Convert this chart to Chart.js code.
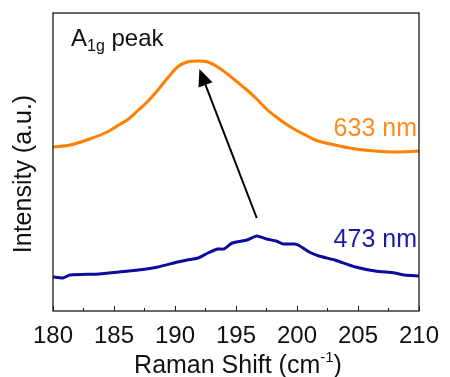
<!DOCTYPE html>
<html>
<head>
<meta charset="utf-8">
<script src="https://cdn.jsdelivr.net/npm/chart.js@4/dist/chart.umd.min.js"></script>
<style>
  html, body { margin: 0; padding: 0; background: #fff; }
  #wrap { width: 450px; height: 377px; }
</style>
</head>
<body>
<div id="wrap"><canvas id="c" width="450" height="377"></canvas></div>
<script>
// Raman shift (cm-1) and intensity (a.u.)
const shift633 = [180.0, 181.4, 183.0, 184.6, 185.4, 186.2, 187.0, 187.8, 188.6, 189.4, 190.2, 191.0, 191.9, 192.7, 193.5, 194.3, 195.1, 195.9, 196.7, 197.5, 198.3, 199.1, 199.9, 200.7, 201.5, 203.1, 204.8, 206.4, 208.0, 210.0];
const intensity633 = [164, 166, 172, 180, 186, 192, 201, 210, 221, 233, 244, 249, 250, 249, 244, 237, 229, 221, 212, 202, 194, 187, 181, 176, 171, 166, 162, 160, 159, 160];

const shift473 = [180.0, 180.8, 181.4, 183.8, 185.4, 187.0, 188.6, 190.2, 191.0, 191.9, 192.7, 193.5, 194.0, 194.7, 195.9, 196.7, 197.5, 198.3, 198.9, 199.8, 200.1, 201.0, 201.8, 203.1, 204.8, 206.4, 208.0, 208.8, 210.0];
const intensity473 = [34, 33, 36, 37, 39, 41, 44, 49, 51, 53, 58, 62, 62, 68, 71, 75, 72, 70, 67, 67, 66, 59, 55, 51, 44, 40, 38, 36, 35];

const xTicks = [180, 185, 190, 195, 200, 205, 210];
const seriesLabels = ['633 nm', '473 nm'];
const peakLabel = ['A', '1g', ' peak'];
const xTitle = ['Raman Shift (cm', '-1', ')'];
const yTitle = 'Intensity (a.u.)';
// arrow from the 473 nm peak to the 633 nm peak (data coordinates)
const arrowFrom = {x: 196.7, y: 93};
const arrowTo = {x: 192.0, y: 242};

const FONT = '"Liberation Sans", Arial, sans-serif';
const ORANGE = '#FF7F00';
const BLUE = '#0B0B9E';

const toXY = (xs, ys) => xs.map((x, i) => ({x, y: ys[i]}));

const decor = {
  id: 'decor',
  afterDraw(chart) {
    const {ctx, chartArea: a, scales} = chart;
    const xs = scales.x, ys = scales.y;
    ctx.save();
    // frame
    ctx.strokeStyle = '#1a1a1a';
    ctx.lineWidth = 1.3;
    ctx.strokeRect(a.left, a.top, a.right - a.left, a.bottom - a.top);
    // inward ticks (major + minor)
    ctx.lineWidth = 1;
    for (let v = 180; v <= 210.01; v += 2.5) {
      const px = Math.round(xs.getPixelForValue(v)) + 0.5;
      const len = (Math.abs(v % 5) < 0.01) ? 5 : 3;
      ctx.beginPath();
      ctx.moveTo(px, a.bottom);
      ctx.lineTo(px, a.bottom - len);
      ctx.stroke();
    }
    // arrow
    const x0 = xs.getPixelForValue(arrowFrom.x), y0 = ys.getPixelForValue(arrowFrom.y);
    const x1 = xs.getPixelForValue(arrowTo.x), y1 = ys.getPixelForValue(arrowTo.y);
    const ang = Math.atan2(y1 - y0, x1 - x0);
    const hl = 17, hw = 7.5;
    const bx = x1 - hl * Math.cos(ang), by = y1 - hl * Math.sin(ang);
    ctx.strokeStyle = '#000';
    ctx.lineWidth = 2;
    ctx.beginPath();
    ctx.moveTo(x0, y0);
    ctx.lineTo(bx, by);
    ctx.stroke();
    ctx.fillStyle = '#000';
    ctx.beginPath();
    ctx.moveTo(x1, y1);
    ctx.lineTo(bx + hw * Math.sin(ang), by - hw * Math.cos(ang));
    ctx.lineTo(bx - hw * Math.sin(ang), by + hw * Math.cos(ang));
    ctx.closePath();
    ctx.fill();
    // series labels
    ctx.textBaseline = 'alphabetic';
    ctx.textAlign = 'right';
    ctx.font = '25px ' + FONT;
    ctx.fillStyle = '#FF8A1C';
    ctx.fillText(seriesLabels[0], 417, 136);
    ctx.fillStyle = '#1A1AA8';
    ctx.fillText(seriesLabels[1], 417, 247);
    // A1g peak
    ctx.textAlign = 'left';
    ctx.fillStyle = '#111';
    let x = 71;
    ctx.font = '24px ' + FONT;
    ctx.fillText(peakLabel[0], x, 46);
    x += ctx.measureText(peakLabel[0]).width;
    ctx.font = '16px ' + FONT;
    ctx.fillText(peakLabel[1], x, 51);
    x += ctx.measureText(peakLabel[1]).width;
    ctx.font = '24px ' + FONT;
    ctx.fillText(peakLabel[2], x, 46);
    // x title with superscript
    ctx.fillStyle = '#111';
    ctx.font = '25px ' + FONT;
    const w1 = ctx.measureText(xTitle[0]).width;
    const w3 = ctx.measureText(xTitle[2]).width;
    ctx.font = '15px ' + FONT;
    const w2 = ctx.measureText(xTitle[1]).width;
    const total = w1 + w2 + w3;
    let tx = (a.left + a.right) / 2 + 2 - total / 2;
    ctx.font = '25px ' + FONT;
    ctx.fillText(xTitle[0], tx, 373);
    tx += w1;
    ctx.font = '15px ' + FONT;
    ctx.fillText(xTitle[1], tx, 362);
    tx += w2;
    ctx.font = '25px ' + FONT;
    ctx.fillText(xTitle[2], tx, 373);
    // y title
    ctx.translate(31, 174);
    ctx.rotate(-Math.PI / 2);
    ctx.textAlign = 'center';
    ctx.font = '25px ' + FONT;
    ctx.fillText(yTitle, 0, 0);
    ctx.restore();
  }
};

new Chart(document.getElementById('c'), {
  type: 'line',
  data: {
    datasets: [
      { label: seriesLabels[0], data: toXY(shift633, intensity633), borderColor: ORANGE, borderWidth: 3, pointRadius: 0, cubicInterpolationMode: 'monotone', fill: false },
      { label: seriesLabels[1], data: toXY(shift473, intensity473), borderColor: BLUE, borderWidth: 3, pointRadius: 0, tension: 0.2, fill: false }
    ]
  },
  options: {
    responsive: false,
    animation: false,
    layout: { padding: { left: 53, right: 25, top: 13, bottom: 0 } },
    plugins: { legend: { display: false }, tooltip: { enabled: false } },
    scales: {
      x: {
        type: 'linear', min: 180, max: 210,
        afterBuildTicks(scale) { scale.ticks = xTicks.map(v => ({value: v})); },
        afterFit(scale) { scale.height = 66; },
        grid: { display: false, drawTicks: false },
        border: { display: false },
        ticks: { color: '#111', font: { family: FONT, size: 24 }, padding: 11, maxRotation: 0, autoSkip: false }
      },
      y: {
        display: false, min: 0, max: 298
      }
    }
  },
  plugins: [decor]
});
</script>
</body>
</html>
